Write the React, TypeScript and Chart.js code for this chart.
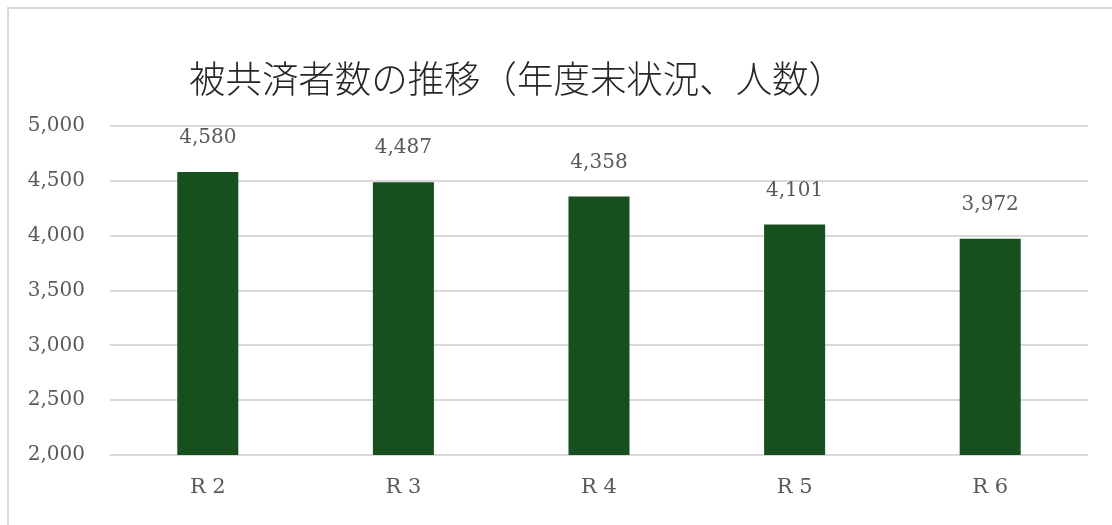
import React, { useEffect, useRef } from "react";
import { Chart, registerables } from "chart.js";

Chart.register(...registerables);

const chartTitle = "被共済者数の推移（年度末状況、人数）";
const categories = ["R 2", "R 3", "R 4", "R 5", "R 6"];
const members = [4580, 4487, 4358, 4101, 3972];
const yMin = 2000;
const yMax = 5000;
const yStep = 500;

const fmt = (v: number) => v.toLocaleString("en-US");
const SERIF = "'DejaVu Serif', 'Liberation Serif', serif";

const titlePlugin = {
  id: "customTitle",
  afterDraw(chart: any) {
    const ctx = chart.ctx;
    ctx.save();
    ctx.font = "300 37px 'Noto Sans CJK JP', sans-serif";
    ctx.fillStyle = "#262626";
    ctx.textAlign = "center";
    ctx.textBaseline = "middle";
    ctx.translate(517, 79);
    ctx.scale(0.985, 1);
    ctx.fillText(chartTitle, 0, 0);
    ctx.restore();
  },
};

const valueLabels = {
  id: "valueLabels",
  afterDatasetsDraw(chart: any) {
    const ctx = chart.ctx;
    const meta = chart.getDatasetMeta(0);
    const data = chart.data.datasets[0].data as number[];
    ctx.save();
    ctx.font = `20px ${SERIF}`;
    ctx.fillStyle = "#595959";
    ctx.textAlign = "center";
    ctx.textBaseline = "middle";
    meta.data.forEach((bar: any, i: number) => {
      ctx.fillText(fmt(data[i]), bar.x, bar.y - 34);
    });
    ctx.restore();
  },
};

export default function App() {
  const ref = useRef<HTMLCanvasElement | null>(null);

  useEffect(() => {
    if (!ref.current) return;
    const chart = new Chart(ref.current, {
      type: "bar",
      data: {
        labels: categories,
        datasets: [
          {
            data: members,
            backgroundColor: "#174f1e",
            borderWidth: 0,
            categoryPercentage: 1,
            barPercentage: 0.312,
          },
        ],
      },
      options: {
        animation: false,
        responsive: false,
        maintainAspectRatio: false,
        layout: { padding: { top: 126, right: 24, bottom: 0, left: 0 } },
        plugins: {
          legend: { display: false },
          title: { display: false },
          tooltip: { enabled: false },
        },
        scales: {
          x: {
            grid: { display: false, drawTicks: false },
            border: { display: false },
            ticks: {
              color: "#595959",
              font: { family: SERIF, size: 21 },
              padding: 20,
            },
            afterFit(scale: any) {
              scale.height = 70;
            },
          },
          y: {
            min: yMin,
            max: yMax,
            grid: { color: "#d9d9d9", lineWidth: 2, drawTicks: false },
            border: { display: false },
            ticks: {
              stepSize: yStep,
              color: "#595959",
              font: { family: SERIF, size: 20 },
              padding: 25,
              callback: (v: any) => fmt(Number(v)),
            },
            afterFit(scale: any) {
              scale.width = 110;
            },
          },
        },
      },
      plugins: [titlePlugin, valueLabels],
    });
    return () => chart.destroy();
  }, []);

  return (
    <div
      style={{
        position: "fixed",
        left: 0,
        top: 0,
        width: 1112,
        height: 525,
        overflow: "hidden",
        background: "#fff",
      }}
    >
      <div
        style={{
          position: "absolute",
          left: 7,
          top: 7,
          width: 1200,
          height: 600,
          borderTop: "2px solid #d9d9d9",
          borderLeft: "2px solid #d9d9d9",
        }}
      />
      <canvas
        ref={ref}
        width={1112}
        height={525}
        style={{ position: "absolute", left: 0, top: 0, width: 1112, height: 525 }}
      />
    </div>
  );
}
